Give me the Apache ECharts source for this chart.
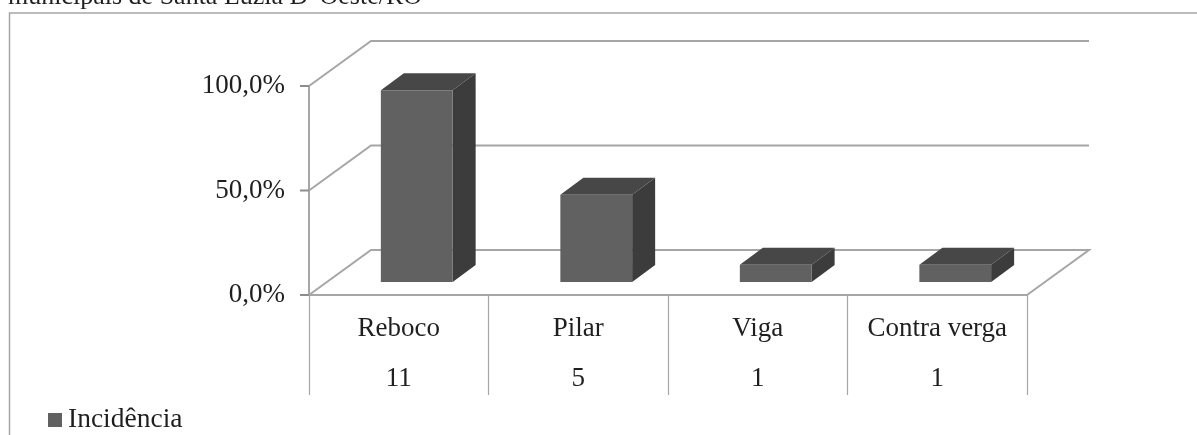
<!DOCTYPE html>
<html>
<head>
<meta charset="utf-8">
<style>html,body{margin:0;padding:0;background:#fff}#chart{width:1197px;height:435px}</style>
<script src="https://cdn.jsdelivr.net/npm/echarts@6/dist/echarts.min.js"></script>
</head>
<body>
<div id="chart"></div>
<script>
// Incidence of cracks per building element
const categories = ['Reboco', 'Pilar', 'Viga', 'Contra verga'];
const counts = [11, 5, 1, 1];
const percentages = [91.7, 41.7, 8.3, 8.3];
const wallTicks = [0, 50, 100];
const seriesName = 'Incidência';
const caption = "municipais de Santa Luzia D' Oeste/RO";

const serif = '"Liberation Serif", "Times New Roman", serif';
const textColor = '#1f1f1f';
const lineColor = '#a6a6a6';
const frontColor = '#616161';
const topColor = '#474747';
const sideColor = '#3c3c3c';

// Projection of the chart's depth axis onto the screen
const wallDepth = [62, -45];
const barDepth = [23, -17];
const barInset = [18, -13];
const barShare = 0.4;
const tickLength = 9;

// Each gridline is an outer tick plus the side-wall and back-wall segments
function renderWalls(params, api) {
  const tick = api.value(0);
  const band = api.size([1, 0])[0];
  const origin = api.coord([0, tick]);
  const end = api.coord([categories.length - 1, tick]);
  const x0 = origin[0] - band / 2;
  const x1 = end[0] + band / 2;
  const back = [x0 + wallDepth[0], origin[1] + wallDepth[1]];
  const points = [[x0, origin[1]], back, [x1 + wallDepth[0], back[1]]];
  if (tick === 0) {
    points.push([x1, origin[1]]);
  }
  return {
    type: 'group',
    children: [
      {
        type: 'line',
        shape: { x1: x0 - tickLength, y1: origin[1], x2: x0, y2: origin[1] },
        style: { stroke: '#8c8c8c', lineWidth: 2 }
      },
      {
        type: 'polyline',
        shape: { points },
        style: { stroke: lineColor, lineWidth: 2, fill: 'none' }
      }
    ]
  };
}

function renderBar(params, api) {
  const idx = api.value(0);
  const top = api.coord([idx, api.value(1)]);
  const base = api.coord([idx, 0]);
  const w = api.size([1, 0])[0] * barShare;
  const x0 = top[0] - w / 2 + barInset[0];
  const x1 = x0 + w;
  const yt = top[1] + barInset[1];
  const yb = base[1] + barInset[1];
  const dx = barDepth[0];
  const dy = barDepth[1];
  return {
    type: 'group',
    children: [
      { type: 'polygon', shape: { points: [[x1, yt], [x1 + dx, yt + dy], [x1 + dx, yb + dy], [x1, yb]] }, style: { fill: sideColor } },
      { type: 'polygon', shape: { points: [[x0, yt], [x0 + dx, yt + dy], [x1 + dx, yt + dy], [x1, yt]] }, style: { fill: topColor } },
      { type: 'rect', shape: { x: x0, y: yt, width: w, height: yb - yt }, style: { fill: frontColor } }
    ]
  };
}

const chart = echarts.init(document.getElementById('chart'), null, { renderer: 'canvas' });
chart.setOption({
  animation: false,
  backgroundColor: '#ffffff',
  grid: { left: 309, top: 86, width: 718, height: 209 },
  legend: {
    data: [seriesName],
    left: 48,
    top: 406,
    icon: 'rect',
    itemWidth: 14,
    itemHeight: 14,
    itemGap: 0,
    padding: 0,
    textStyle: { fontFamily: serif, fontSize: 27.5, color: textColor, padding: [0, 0, 0, 1] }
  },
  xAxis: {
    type: 'category',
    data: categories,
    axisLine: { lineStyle: { color: lineColor, width: 2 } },
    axisTick: { show: true, length: 100, lineStyle: { color: lineColor, width: 1.2 } },
    axisLabel: {
      margin: 9,
      interval: 0,
      fontFamily: serif,
      fontSize: 27,
      color: textColor,
      lineHeight: 50,
      verticalAlign: 'top',
      formatter: (name, i) => name + '\n' + counts[i]
    }
  },
  yAxis: {
    type: 'value',
    min: 0,
    max: 100,
    interval: 50,
    splitLine: { show: false },
    axisLine: { show: true, lineStyle: { color: lineColor, width: 2 } },
    axisTick: { show: false },
    axisLabel: {
      margin: 24,
      padding: [3, 0, 0, 0],
      fontFamily: serif,
      fontSize: 27,
      color: textColor,
      formatter: v => v.toFixed(1).replace('.', ',') + '%'
    }
  },
  graphic: [
    {
      type: 'polyline',
      shape: { points: [[9.5, 435], [9.5, 13], [1197, 13]] },
      style: { stroke: lineColor, lineWidth: 1.5, fill: 'none' },
      silent: true
    },
    {
      type: 'text',
      left: 8,
      top: -16,
      style: { text: caption, fontFamily: serif, fontSize: 26, fill: textColor },
      silent: true
    }
  ],
  series: [
    {
      name: 'Paredes',
      type: 'custom',
      coordinateSystem: 'cartesian2d',
      renderItem: renderWalls,
      silent: true,
      encode: { y: 0 },
      data: wallTicks.map(t => [t]),
      z: 1
    },
    {
      name: seriesName,
      type: 'custom',
      coordinateSystem: 'cartesian2d',
      renderItem: renderBar,
      itemStyle: { color: frontColor },
      encode: { x: 0, y: 1 },
      data: percentages.map((p, i) => [i, p]),
      z: 3
    }
  ]
});
</script>
</body>
</html>
